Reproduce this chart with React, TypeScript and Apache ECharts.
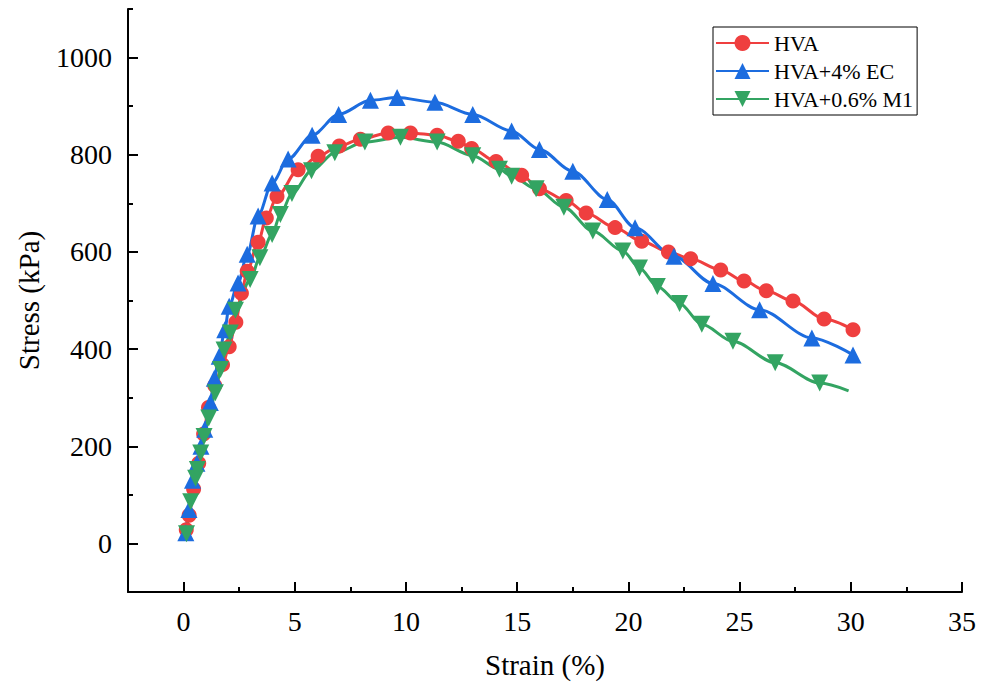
import { useEffect, useRef } from 'react';
import * as echarts from 'echarts';

const hvaStrain = [0.12, 0.25, 0.45, 0.68, 0.9, 1.12, 1.4, 1.75, 2.05, 2.35, 2.6, 2.86, 3.35, 3.72, 4.2, 5.15, 6.05, 7.0, 7.95, 9.2, 10.2, 11.4, 12.35, 12.95, 14.05, 15.2, 16.0, 17.2, 18.1, 19.4, 20.6, 21.8, 22.8, 24.15, 25.2, 26.2, 27.4, 28.8, 30.1];
const hvaStress = [28, 58, 112, 165, 225, 280, 325, 368, 405, 455, 515, 560, 620, 670, 714, 769, 797, 818, 832, 845, 845, 840, 828, 813, 786, 758, 730, 706, 680, 650, 622, 600, 586, 563, 540, 520, 499, 462, 440];

const ecStrain = [0.1, 0.24, 0.4, 0.6, 0.78, 0.95, 1.2, 1.38, 1.6, 1.85, 2.05, 2.45, 2.86, 3.35, 3.98, 4.7, 5.78, 6.97, 8.4, 9.6, 11.3, 13.0, 14.75, 16.0, 17.5, 19.05, 20.3, 22.05, 23.8, 25.9, 28.25, 30.1];
const ecStress = [22, 70, 130, 165, 200, 235, 290, 340, 385, 440, 488, 536, 595, 674, 742, 791, 840, 883, 912, 918, 908, 883, 849, 811, 766, 708, 650, 591, 535, 481, 423, 388];

const m1Strain = [0.13, 0.32, 0.54, 0.62, 0.77, 0.92, 1.13, 1.43, 1.66, 1.82, 2.1, 2.33, 2.99, 3.43, 3.98, 4.35, 4.87, 5.75, 6.8, 8.15, 9.75, 11.4, 13.0, 14.2, 14.75, 15.85, 17.1, 18.4, 19.75, 20.5, 21.3, 22.3, 23.3, 24.7, 26.6, 28.6, 29.9];
const m1Stress = [20, 86, 134, 152, 186, 220, 258, 310, 358, 398, 433, 480, 543, 588, 636, 677, 720, 767, 804, 826, 836, 826, 798, 770, 756, 730, 692, 643, 602, 567, 529, 494, 451, 416, 372, 330, 314];

const seriesNames = ['HVA', 'HVA+4% EC', 'HVA+0.6% M1'];
const xMajorTicks = [0, 5, 10, 15, 20, 25, 30, 35];
const xMinorTicks = [2.5, 7.5, 12.5, 17.5, 22.5, 27.5, 32.5];
const yMajorTicks = [0, 200, 400, 600, 800, 1000];
const yMinorTicks = [100, 300, 500, 700, 900, 1100];

const FONT = 'Liberation Serif';
const RED = '#EF3F3F';
const BLUE = '#1C6CDF';
const GREEN = '#33A462';

function pairs(xs: number[], ys: number[]) {
  return xs.map((x, i) => [x, ys[i]]);
}

export default function App() {
  const ref = useRef<HTMLDivElement>(null);
  useEffect(() => {
    const chart = echarts.init(ref.current!, null, { renderer: 'svg' });
    const m1Data: any[] = pairs(m1Strain, m1Stress);
    const last = m1Data.length - 1;
    m1Data[last] = { value: m1Data[last], symbol: 'none' };

    const axisLine = { show: true, onZero: false, lineStyle: { color: '#000', width: 2 } };
    const plain = (v: number) => String(v);
    const labelStyle = { fontFamily: FONT, fontSize: 28, color: '#000', fontWeight: 'normal' as const };
    const nameStyle = { fontFamily: FONT, fontSize: 29, color: '#000', fontWeight: 'normal' as const };
    chart.setOption({
      animation: false,
      backgroundColor: '#fff',
      textStyle: { fontFamily: FONT, color: '#000' },
      grid: { left: 128, right: 28, top: 9, bottom: 98 },
      legend: {
        orient: 'vertical',
        left: 713,
        top: 27,
        padding: [5, 4, 5, 2],
        borderColor: '#000',
        borderWidth: 1,
        itemWidth: 53,
        itemHeight: 20,
        itemGap: 6,
        textStyle: { fontFamily: FONT, fontSize: 22, color: '#000' },
        data: seriesNames,
      },
      xAxis: [
        {
          type: 'value',
          position: 'bottom',
          min: -2.5,
          max: 35,
          name: 'Strain (%)',
          nameLocation: 'middle',
          nameGap: 58,
          nameTextStyle: nameStyle,
          axisLine,
          axisTick: { show: true, inside: true, length: 10, lineStyle: { color: '#000', width: 2 }, customValues: xMajorTicks },
          axisLabel: { ...labelStyle, margin: 15, formatter: plain, customValues: xMajorTicks },
          splitLine: { show: false },
        },
        {
          type: 'value',
          position: 'bottom',
          min: -2.5,
          max: 35,
          axisLine: { show: false, onZero: false },
          axisTick: { show: true, inside: true, length: 5, lineStyle: { color: '#000', width: 2 }, customValues: xMinorTicks },
          axisLabel: { show: false },
          splitLine: { show: false },
        },
      ],
      yAxis: [
        {
          type: 'value',
          position: 'left',
          min: -100,
          max: 1100,
          name: 'Stress (kPa)',
          nameLocation: 'middle',
          nameGap: 85,
          nameTextStyle: nameStyle,
          axisLine,
          axisTick: { show: true, inside: true, length: 10, lineStyle: { color: '#000', width: 2 }, customValues: yMajorTicks },
          axisLabel: { ...labelStyle, margin: 16, formatter: plain, customValues: yMajorTicks },
          splitLine: { show: false },
        },
        {
          type: 'value',
          position: 'left',
          min: -100,
          max: 1100,
          axisLine: { show: false, onZero: false },
          axisTick: { show: true, inside: true, length: 5, lineStyle: { color: '#000', width: 2 }, customValues: yMinorTicks },
          axisLabel: { show: false },
          splitLine: { show: false },
        },
      ],
      series: [
        {
          name: seriesNames[0],
          type: 'line',
          data: pairs(hvaStrain, hvaStress),
          smooth: 0.3,
          smoothMonotone: 'x',
          symbol: 'circle',
          symbolSize: 15,
          showAllSymbol: true,
          lineStyle: { color: RED, width: 3 },
          itemStyle: { color: RED },
        },
        {
          name: seriesNames[1],
          type: 'line',
          data: pairs(ecStrain, ecStress),
          smooth: 0.3,
          smoothMonotone: 'x',
          symbol: 'triangle',
          symbolSize: 17,
          showAllSymbol: true,
          lineStyle: { color: BLUE, width: 3 },
          itemStyle: { color: BLUE },
        },
        {
          name: seriesNames[2],
          type: 'line',
          data: m1Data,
          smooth: 0.3,
          smoothMonotone: 'x',
          symbol: 'triangle',
          symbolRotate: 180,
          symbolSize: 17,
          showAllSymbol: true,
          lineStyle: { color: GREEN, width: 3 },
          itemStyle: { color: GREEN },
        },
      ],
    });
    return () => chart.dispose();
  }, []);
  return <div ref={ref} style={{ position: 'absolute', left: 0, top: 0, width: 990, height: 690 }} />;
}
